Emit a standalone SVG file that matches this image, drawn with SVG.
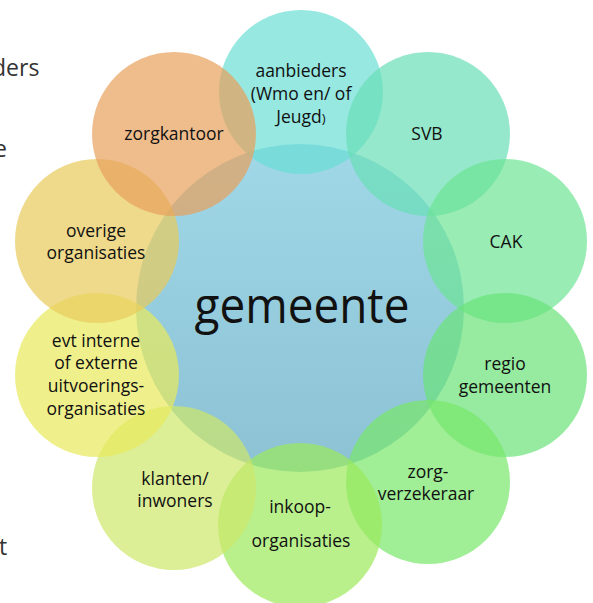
<svg xmlns="http://www.w3.org/2000/svg" width="593" height="603" viewBox="0 0 593 603">
<defs>
<linearGradient id="blue" x1="0" y1="0" x2="0" y2="1">
<stop offset="0" stop-color="#a0d8e8"/>
<stop offset="1" stop-color="#8cc2d4"/>
</linearGradient>
</defs>
<style>
.sat{opacity:0.7}
.lbl{font-family:"Open Sans","Noto Sans","DejaVu Sans",sans-serif;font-size:17.5px;fill:#111;text-anchor:middle}
.bg{font-family:"Open Sans","Noto Sans","DejaVu Sans",sans-serif;font-size:23px;fill:#333}
</style>
<rect width="593" height="603" fill="#ffffff"/>
<g id="background-text">
<text class="bg" x="-8" y="76">ders</text>
<text class="bg" x="-6" y="157">e</text>
<text class="bg" x="-1" y="555">t</text>
</g>
<g id="gemeente">
<circle cx="300" cy="308" r="164" fill="url(#blue)"/>
</g>
<g id="aanbieders"><circle class="sat" cx="301" cy="92" r="82" fill="#69ded4"/></g>
<g id="svb"><circle class="sat" cx="428" cy="134" r="82" fill="#69deb7"/></g>
<g id="cak"><circle class="sat" cx="505" cy="241" r="82" fill="#6ce494"/></g>
<g id="regio"><circle class="sat" cx="505" cy="375" r="82" fill="#69e277"/></g>
<g id="zorgverzekeraar"><circle class="sat" cx="428" cy="482" r="82" fill="#77e769"/></g>
<g id="inkoop"><circle class="sat" cx="300" cy="525" r="82" fill="#9bea5b"/></g>
<g id="klanten"><circle class="sat" cx="174" cy="488" r="82" fill="#cde769"/></g>
<g id="evt"><circle class="sat" cx="97" cy="375" r="82" fill="#e8ea5b"/></g>
<g id="overige"><circle class="sat" cx="97" cy="241" r="82" fill="#e8ca5b"/></g>
<g id="zorgkantoor"><circle class="sat" cx="174" cy="134" r="82" fill="#e89f5b"/></g>
<g id="connectors"></g>
<g id="labels">
<text x="302" y="323" font-family="'Open Sans','Noto Sans',sans-serif" font-size="50" fill="#111" text-anchor="middle" textLength="215" lengthAdjust="spacingAndGlyphs">gemeente</text>
<text class="lbl" x="301" y="77">aanbieders</text>
<text class="lbl" x="301" y="100">(Wmo en/ of</text>
<text class="lbl" x="301" y="123">Jeugd<tspan font-size="13">)</tspan></text>
<text class="lbl" x="427" y="140">SVB</text>
<text class="lbl" x="506" y="248">CAK</text>
<text class="lbl" x="505" y="370">regio</text>
<text class="lbl" x="505" y="393">gemeenten</text>
<text class="lbl" x="428" y="478">zorg-</text>
<text class="lbl" x="426" y="500">verzekeraar</text>
<text class="lbl" x="300" y="513">inkoop-</text>
<text class="lbl" x="301" y="547">organisaties</text>
<text class="lbl" x="175" y="485">klanten/</text>
<text class="lbl" x="175" y="507">inwoners</text>
<text class="lbl" x="96" y="347">evt interne</text>
<text class="lbl" x="96" y="369">of externe</text>
<text class="lbl" x="96" y="392">uitvoerings-</text>
<text class="lbl" x="96" y="415">organisaties</text>
<text class="lbl" x="96" y="237">overige</text>
<text class="lbl" x="96" y="259">organisaties</text>
<text class="lbl" x="174" y="140">zorgkantoor</text>
</g>
</svg>
